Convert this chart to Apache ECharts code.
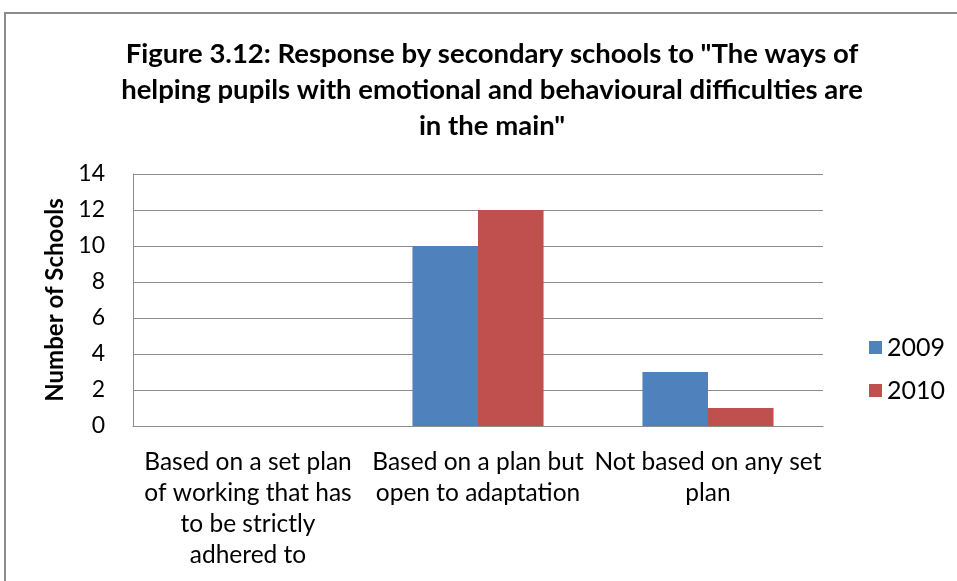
<!DOCTYPE html>
<html>
<head>
<meta charset="utf-8">
<script src="https://cdn.jsdelivr.net/npm/echarts@6/dist/echarts.min.js"></script>
<style>
	html, body { margin: 0; padding: 0; background: #fff; }
	#chart { width: 957px; height: 581px; }
</style>
</head>
<body>
<div id="chart"></div>
<script>
var categories = [
	"Based on a set plan\nof working that has\nto be strictly\nadhered to",
	"Based on a plan but\nopen to adaptation",
	"Not based on any set\nplan"
];
var seriesNames = ["2009", "2010"];
var values2009 = [0, 10, 3];
var values2010 = [0, 12, 1];
var color = ["#4F81BD", "#C0504D"];
var font = "Lato, 'Open Sans', sans-serif";

var myChart = echarts.init(document.getElementById("chart"), null, { renderer: "canvas" });

var option = {
	animation: false,
	color: color,
	// 外框
	graphic: [{
		type: "rect",
		shape: { x: 5, y: 13, width: 1000, height: 700 },
		style: { fill: "none", stroke: "#8c8c8c", lineWidth: 2 },
		silent: true
	}],
	title: {
		text: "Figure 3.12: Response by secondary schools to \"The ways of\nhelping pupils with emotional and behavioural difficulties are\nin the main\"",
		left: 487,
		top: 31,
		textAlign: "center",
		textStyle: {
			fontFamily: font,
			fontSize: 27.5,
			fontWeight: "bold",
			color: "#000",
			lineHeight: 36
		}
	},
	legend: {
		orient: "vertical",
		left: 864,
		top: 330,
		itemWidth: 13,
		itemHeight: 13,
		itemGap: 18,
		icon: "rect",
		textStyle: { fontFamily: font, fontSize: 25, color: "#000" },
		data: seriesNames
	},
	grid: {
		left: 133,
		right: 134,
		top: 174,
		bottom: 155
	},
	xAxis: {
		type: "category",
		data: categories,
		axisLine: { show: true, lineStyle: { color: "#8c8c8c" } },
		axisTick: { show: false },
		axisLabel: {
			interval: 0,
			margin: 21,
			fontFamily: font,
			fontSize: 24.5,
			color: "#000",
			lineHeight: 31,
			align: "center"
		}
	},
	yAxis: {
		type: "value",
		min: 0,
		max: 14,
		interval: 2,
		name: "Number of Schools",
		nameLocation: "middle",
		nameGap: 62,
		nameTextStyle: { fontFamily: font, fontSize: 24, fontWeight: "bold", color: "#000" },
		axisLine: { show: true, lineStyle: { color: "#8c8c8c" } },
		axisTick: { show: false },
		axisLabel: { fontFamily: font, fontSize: 23, color: "#000", margin: 28 },
		splitLine: { lineStyle: { color: "#8c8c8c" } }
	},
	series: [
		{ name: seriesNames[0], type: "bar", data: values2009, barGap: "0%", barCategoryGap: "43%" },
		{ name: seriesNames[1], type: "bar", data: values2010, barGap: "0%", barCategoryGap: "43%" }
	]
};
myChart.setOption(option);
window.addEventListener("resize", myChart.resize);
</script>
</body>
</html>
